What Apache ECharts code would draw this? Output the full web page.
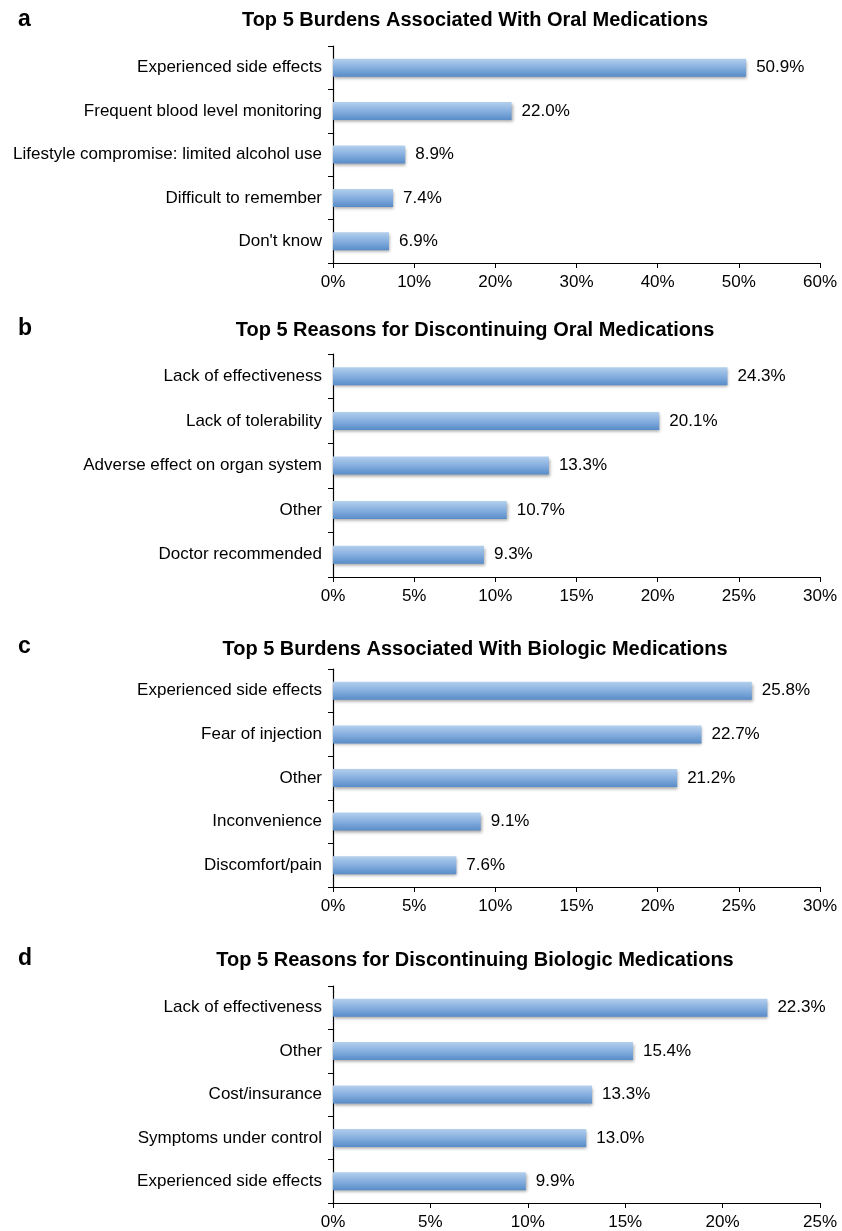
<!DOCTYPE html>
<html>
<head>
<meta charset="utf-8">
<script src="https://cdn.jsdelivr.net/npm/echarts@6/dist/echarts.min.js"></script>
<style>html,body{margin:0;padding:0;background:#fff;}#c{width:842px;height:1231px;}</style>
</head>
<body>
<div id="c"></div>
<script>
const panelLetters = ['a', 'b', 'c', 'd'];
const panelTitles = [
  'Top 5 Burdens Associated With Oral Medications',
  'Top 5 Reasons for Discontinuing Oral Medications',
  'Top 5 Burdens Associated With Biologic Medications',
  'Top 5 Reasons for Discontinuing Biologic Medications'
];
const catsA = ['Experienced side effects', 'Frequent blood level monitoring', 'Lifestyle compromise: limited alcohol use', 'Difficult to remember', "Don't know"];
const valsA = [50.9, 22.0, 8.9, 7.4, 6.9];
const catsB = ['Lack of effectiveness', 'Lack of tolerability', 'Adverse effect on organ system', 'Other', 'Doctor recommended'];
const valsB = [24.3, 20.1, 13.3, 10.7, 9.3];
const catsC = ['Experienced side effects', 'Fear of injection', 'Other', 'Inconvenience', 'Discomfort/pain'];
const valsC = [25.8, 22.7, 21.2, 9.1, 7.6];
const catsD = ['Lack of effectiveness', 'Other', 'Cost/insurance', 'Symptoms under control', 'Experienced side effects'];
const valsD = [22.3, 15.4, 13.3, 13.0, 9.9];
const axisMax = [60, 30, 30, 25];
const axisStep = [10, 5, 5, 5];

const cats = [catsA, catsB, catsC, catsD];
const vals = [valsA, valsB, valsC, valsD];
const tops = [46, 354, 669, 986];
const heights = [217, 223, 218, 218];
const letterTops = [3, 312, 630, 942];
const titleTops = [5, 315, 634, 945];
const font = 'Liberation Sans, Arial, Helvetica, sans-serif';

const chart = echarts.init(document.getElementById('c'), null, {renderer: 'canvas'});
const titles = [], grids = [], xAxes = [], yAxes = [], series = [];
for (let i = 0; i < 4; i++) {
  titles.push({text: panelLetters[i], left: 13, top: letterTops[i],
    textStyle: {fontFamily: font, fontSize: 23, fontWeight: 'bold', color: '#000'}});
  titles.push({text: panelTitles[i], left: 470, top: titleTops[i], textAlign: 'center',
    textStyle: {fontFamily: font, fontSize: 20, fontWeight: 'bold', color: '#000'}});
  grids.push({left: 333, width: 487, top: tops[i], height: heights[i], containLabel: false});
  xAxes.push({type: 'value', gridIndex: i, min: 0, max: axisMax[i], interval: axisStep[i],
    axisLine: {show: true, lineStyle: {color: '#000', width: 1.2}},
    axisTick: {show: true, length: 5, inside: false, lineStyle: {color: '#000'}},
    splitLine: {show: false},
    axisLabel: {formatter: '{value}%', fontFamily: font, fontSize: 17, color: '#000', margin: 11}});
  yAxes.push({type: 'category', gridIndex: i, inverse: true, data: cats[i],
    axisLine: {show: true, lineStyle: {color: '#000', width: 1.2}},
    axisTick: {show: true, length: 5, alignWithLabel: false, lineStyle: {color: '#000'}},
    axisLabel: {fontFamily: font, fontSize: 17, color: '#000', margin: 11}});
  series.push({type: 'bar', xAxisIndex: i, yAxisIndex: i, data: vals[i], barWidth: 18,
    itemStyle: {
      color: new echarts.graphic.LinearGradient(0, 0, 0, 1, [
        {offset: 0, color: '#b3cfed'},
        {offset: 0.5, color: '#86afdf'},
        {offset: 1, color: '#588cc8'}
      ]),
      shadowColor: 'rgba(0,0,0,0.35)', shadowBlur: 3, shadowOffsetX: 1, shadowOffsetY: 2
    },
    label: {show: true, position: 'right', distance: 10, formatter: p => p.value.toFixed(1) + '%',
      fontFamily: font, fontSize: 17, color: '#000'}
  });
}
chart.setOption({
  animation: false,
  backgroundColor: '#fff',
  title: titles, grid: grids, xAxis: xAxes, yAxis: yAxes, series: series
});
</script>
</body>
</html>
